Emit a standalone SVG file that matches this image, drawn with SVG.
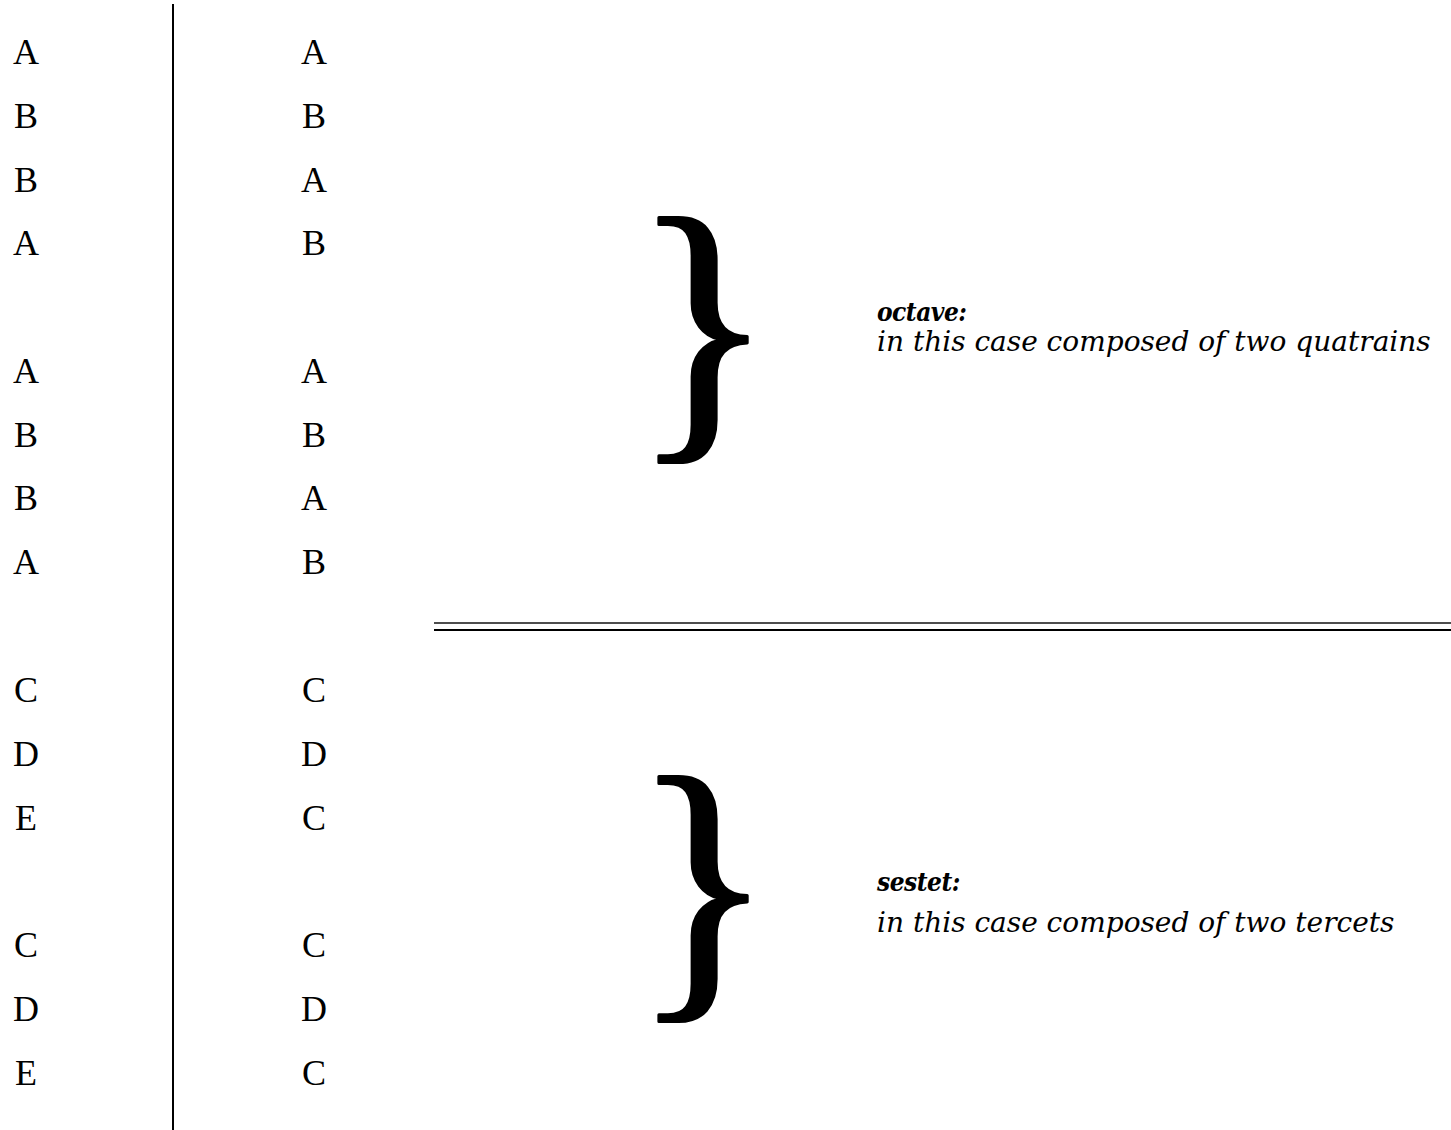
<svg xmlns="http://www.w3.org/2000/svg" width="1451" height="1130" viewBox="0 0 1451 1130">
<style>
.l{font-family:"Liberation Serif",serif;font-size:36px;fill:#000;text-anchor:middle}
.br{font-family:"Liberation Serif",serif;font-size:296px;fill:#000;stroke:#000;stroke-width:3;stroke-linejoin:round}
.h{font-family:"DejaVu Serif",serif;font-style:italic;font-weight:bold;font-size:26px;font-stretch:condensed;letter-spacing:-0.5px;fill:#000}
.d{font-family:"DejaVu Serif",serif;font-style:italic;font-size:28px;fill:#000}
</style>
<rect width="1451" height="1130" fill="#fff"/>
<g id="divider">
<rect x="172" y="4" width="2" height="1126" fill="#000"/>
</g>
<g id="col1">
<text class="l" x="26" y="64">A</text>
<text class="l" x="26" y="128">B</text>
<text class="l" x="26" y="192">B</text>
<text class="l" x="26" y="255">A</text>
<text class="l" x="26" y="383">A</text>
<text class="l" x="26" y="447">B</text>
<text class="l" x="26" y="510">B</text>
<text class="l" x="26" y="574">A</text>
<text class="l" x="26" y="702">C</text>
<text class="l" x="26" y="766">D</text>
<text class="l" x="26" y="830">E</text>
<text class="l" x="26" y="957">C</text>
<text class="l" x="26" y="1021">D</text>
<text class="l" x="26" y="1085">E</text>
</g>
<g id="col2">
<text class="l" x="314" y="64">A</text>
<text class="l" x="314" y="128">B</text>
<text class="l" x="314" y="192">A</text>
<text class="l" x="314" y="255">B</text>
<text class="l" x="314" y="383">A</text>
<text class="l" x="314" y="447">B</text>
<text class="l" x="314" y="510">A</text>
<text class="l" x="314" y="574">B</text>
<text class="l" x="314" y="702">C</text>
<text class="l" x="314" y="766">D</text>
<text class="l" x="314" y="830">C</text>
<text class="l" x="314" y="957">C</text>
<text class="l" x="314" y="1021">D</text>
<text class="l" x="314" y="1085">C</text>
</g>
<g id="octave">
<text class="br" x="632" y="423">}</text>
<text class="h" x="877" y="321">octave:</text>
<text class="d" x="877" y="351">in this case composed of two quatrains</text>
</g>
<g id="separator">
<rect x="434" y="622" width="1017" height="2" fill="#4d4d4d"/>
<rect x="434" y="629" width="1017" height="2" fill="#000"/>
</g>
<g id="sestet">
<text class="br" x="632" y="982">}</text>
<text class="h" x="877" y="891">sestet:</text>
<text class="d" x="877" y="932">in this case composed of two tercets</text>
</g>
</svg>
